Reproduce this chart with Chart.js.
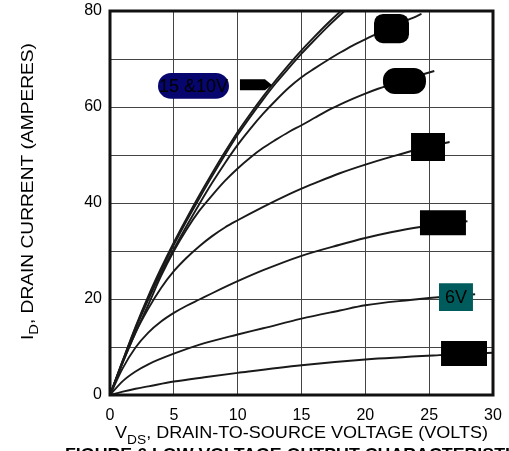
<!DOCTYPE html>
<html>
<head>
<meta charset="utf-8">
<script src="https://cdn.jsdelivr.net/npm/chart.js@4.4.1/dist/chart.umd.min.js"></script>
<style>
  html, body { margin: 0; padding: 0; background: #fff; }
  #wrap { width: 509px; height: 451px; }
</style>
</head>
<body>
<div id="wrap"><canvas id="chart"></canvas></div>
<script>
// axis ticks
const xTicks = [0, 5, 10, 15, 20, 25, 30];
const yTicks = [0, 20, 40, 60, 80];

// V_DS (volts) / I_D (amps) per gate voltage curve
const vgs15V = [0, 1, 2, 3, 4, 5, 6, 7, 8, 9, 10, 11, 12, 13, 14, 15, 16, 17, 18, 18.6];
const vgs15I = [0, 7.2, 14.2, 20.6, 26.4, 31.8, 36.8, 41.6, 46.2, 50.6, 54.8, 58.6, 62.2, 65.6, 68.8, 71.8, 74.6, 77.3, 79.8, 81.2];

const vgs10V = [0, 1, 2, 3, 4, 5, 6, 7, 8, 9, 10, 11, 12, 13, 14, 15, 16, 17, 18, 19];
const vgs10I = [0, 7.1, 14, 20.3, 26, 31.3, 36.3, 41, 45.6, 50, 54.2, 58, 61.6, 65, 68.1, 71.1, 73.9, 76.6, 79.1, 81.5];

const vgsCV = [0, 1, 2, 3, 4, 5, 6, 7, 8, 9, 10, 11, 12, 13, 14, 15, 16, 17, 18, 19, 20, 21, 22, 23, 24, 24.4];
const vgsCI = [0, 7, 13.8, 19.9, 25.4, 30.4, 35.2, 39.8, 44.2, 48.3, 52.1, 55.5, 58.6, 61.4, 64, 66.2, 68, 69.7, 71.3, 72.8, 74.1, 75.4, 76.6, 77.8, 78.9, 79.4];

const vgsDV = [0, 1, 2, 3, 4, 5, 6, 7, 8, 9, 10, 11, 12, 13, 14, 15, 16, 17, 18, 19, 20, 21, 22, 23, 24, 25.4];
const vgsDI = [0, 6.8, 13, 18.8, 24.8, 30, 34.5, 38.4, 41.6, 44.6, 47.2, 49.5, 51.5, 53.2, 54.8, 56.2, 57.7, 59.2, 60.5, 61.7, 62.8, 63.8, 64.7, 65.6, 66.4, 67.5];

const vgsEV = [0, 1, 2, 3, 4, 5, 6, 7, 8, 9, 10, 12, 14, 15, 16, 18, 20, 22, 24, 26.6];
const vgsEI = [0, 6.8, 13, 18, 22.3, 25.8, 28.6, 31, 33.1, 34.9, 36.4, 39.2, 41.8, 43, 44.1, 46.2, 48, 49.6, 51.1, 52.7];

const vgsFV = [0, 1, 2, 3, 4, 5, 6, 7, 8, 10, 12, 15, 18, 20, 22, 24.3, 28];
const vgsFI = [0, 5.6, 9.9, 13, 15.3, 17.1, 18.6, 19.9, 21.2, 23.7, 26, 29, 31.3, 32.7, 33.9, 35, 36.2];

const vgs6V = [0, 1, 2, 3, 5, 7.4, 10, 12, 15, 18, 20, 23.5, 25, 28.6];
const vgs6I = [0, 2.9, 4.9, 6.4, 8.6, 10.8, 12.6, 13.9, 15.9, 17.6, 18.7, 19.8, 20.2, 21];

const vgsHV = [0, 1, 2, 3, 5, 7.4, 10, 15, 20, 25.8, 30];
const vgsHI = [0, 0.7, 1.3, 1.8, 2.8, 3.7, 4.6, 6.2, 7.4, 8.3, 8.8];

// curve label boxes, in data units: [x0, x1, yTop, yBottom, radius, fill, text]
const tags = [
    [3.76, 9.32, 67.1, 61.7, 13, '#06066e', '15 &10V'],
    [20.68, 23.42, 79.4, 73.3, 9, '#000', ''],
    [21.38, 24.75, 68.1, 62.7, 12, '#000', ''],
    [23.58, 26.24, 54.6, 48.75, 0, '#000', ''],
    [24.28, 27.88, 38.5, 33.3, 0, '#000', ''],
    [25.77, 28.43, 23.3, 17.5, 0, '#005c5c', '6V'],
    [25.93, 29.53, 11.25, 6.04, 0, '#000', '']
];
// arrow pointing at the 15 & 10V pair
const arrowX = [10.18, 12.14, 12.69, 12.14, 10.18];
const arrowY = [65.8, 65.8, 64.6, 63.5, 63.5];

const font = '"Liberation Sans", Arial, Helvetica, sans-serif';

function pts(vs, is) {
    return vs.map((v, k) => ({ x: v, y: is[k] }));
}

function curve(vs, is) {
    return {
        data: pts(vs, is),
        showLine: true,
        borderColor: '#1a1a1a',
        borderWidth: 1.9,
        pointRadius: 0,
        fill: false,
        cubicInterpolationMode: 'monotone'
    };
}

// text in pieces (for subscripts), squeezed to a given width
function richText(ctx, parts, width) {
    let total = 0;
    parts.forEach(p => {
        ctx.font = p.font;
        total += ctx.measureText(p.t).width;
    });
    const k = width / total;
    ctx.save();
    ctx.scale(k, 1);
    let x = 0;
    parts.forEach(p => {
        ctx.font = p.font;
        ctx.fillText(p.t, x, p.dy || 0);
        x += ctx.measureText(p.t).width;
    });
    ctx.restore();
}

// keep the plot box exactly where the padding puts it
function noOverflow(s) {
    s.paddingTop = 0;
    s.paddingBottom = 0;
    s.paddingLeft = 0;
    s.paddingRight = 0;
}

const decor = {
    id: 'decor',
    afterDatasetsDraw(chart) {
        const ctx = chart.ctx;
        const xs = chart.scales.x, ys = chart.scales.y;
        ctx.save();
        tags.forEach(t => {
            const x0 = xs.getPixelForValue(t[0]), x1 = xs.getPixelForValue(t[1]);
            const y0 = ys.getPixelForValue(t[2]), y1 = ys.getPixelForValue(t[3]);
            ctx.fillStyle = t[5];
            ctx.beginPath();
            ctx.roundRect(x0, y0, x1 - x0, y1 - y0, t[4]);
            ctx.fill();
            if (t[6]) {
                ctx.fillStyle = '#000';
                ctx.font = '18px ' + font;
                ctx.textAlign = 'center';
                ctx.textBaseline = 'middle';
                ctx.fillText(t[6], (x0 + x1) / 2, (y0 + y1) / 2 + 1);
            }
        });
        ctx.fillStyle = '#000';
        ctx.beginPath();
        arrowX.forEach((v, k) => {
            const px = xs.getPixelForValue(v), py = ys.getPixelForValue(arrowY[k]);
            if (k === 0) ctx.moveTo(px, py); else ctx.lineTo(px, py);
        });
        ctx.closePath();
        ctx.fill();
        ctx.restore();
    },
    afterDraw(chart) {
        const ctx = chart.ctx;
        const a = chart.chartArea;
        ctx.save();
        ctx.strokeStyle = '#111';
        ctx.lineWidth = 3;
        ctx.strokeRect(a.left, a.top, a.right - a.left, a.bottom - a.top);

        ctx.fillStyle = '#000';
        ctx.textAlign = 'left';
        ctx.textBaseline = 'alphabetic';

        // x title
        ctx.save();
        ctx.translate(115, 438);
        richText(ctx, [
            { t: 'V', font: '17px ' + font },
            { t: 'DS', font: '13px ' + font, dy: 6 },
            { t: ', DRAIN-TO-SOURCE VOLTAGE (VOLTS)', font: '17px ' + font }
        ], 373);
        ctx.restore();

        // y title
        ctx.save();
        ctx.translate(33, 340);
        ctx.rotate(-Math.PI / 2);
        richText(ctx, [
            { t: 'I', font: '17px ' + font },
            { t: 'D', font: '13px ' + font, dy: 5 },
            { t: ', DRAIN CURRENT (AMPERES)', font: '17px ' + font }
        ], 297);
        ctx.restore();

        // figure caption, cut off by the bottom edge
        ctx.save();
        ctx.translate(65, 460);
        ctx.font = 'bold 17px ' + font;
        const part = ctx.measureText('FIGURE 6 LOW VOLTAGE OUTPUT CHARACTERIST').width;
        const whole = ctx.measureText('FIGURE 6 LOW VOLTAGE OUTPUT CHARACTERISTICS').width;
        richText(ctx, [{ t: 'FIGURE 6 LOW VOLTAGE OUTPUT CHARACTERISTICS', font: 'bold 17px ' + font }], 440 * whole / part);
        ctx.restore();

        ctx.restore();
    }
};

new Chart(document.getElementById('chart'), {
    type: 'scatter',
    data: {
        datasets: [
            curve(vgs15V, vgs15I),
            curve(vgs10V, vgs10I),
            curve(vgsCV, vgsCI),
            curve(vgsDV, vgsDI),
            curve(vgsEV, vgsEI),
            curve(vgsFV, vgsFI),
            curve(vgs6V, vgs6I),
            curve(vgsHV, vgsHI)
        ]
    },
    options: {
        responsive: true,
        maintainAspectRatio: false,
        animation: false,
        layout: { padding: { top: 11, right: 16, left: 0, bottom: 0 } },
        plugins: { legend: { display: false }, tooltip: { enabled: false } },
        scales: {
            x: {
                type: 'linear',
                min: 0,
                max: 30,
                afterBuildTicks: s => { s.ticks = xTicks.map(v => ({ value: v })); },
                afterFit: s => { s.height = 56; noOverflow(s); },
                ticks: { padding: 11, color: '#000', maxRotation: 0, font: { family: font, size: 16 } },
                grid: { color: '#444', lineWidth: 1, drawTicks: false },
                border: { display: false }
            },
            y: {
                type: 'linear',
                min: 0,
                max: 80,
                afterBuildTicks: s => {
                    const t = [];
                    for (let v = 0; v <= 80; v += 10) t.push({ value: v });
                    s.ticks = t;
                },
                afterFit: s => { s.width = 110; noOverflow(s); },
                ticks: {
                    padding: 8,
                    color: '#000',
                    font: { family: font, size: 16 },
                    callback: v => yTicks.includes(v) ? String(v) : ''
                },
                grid: { color: '#444', lineWidth: 1, drawTicks: false },
                border: { display: false }
            }
        }
    },
    plugins: [decor]
});
</script>
</body>
</html>
